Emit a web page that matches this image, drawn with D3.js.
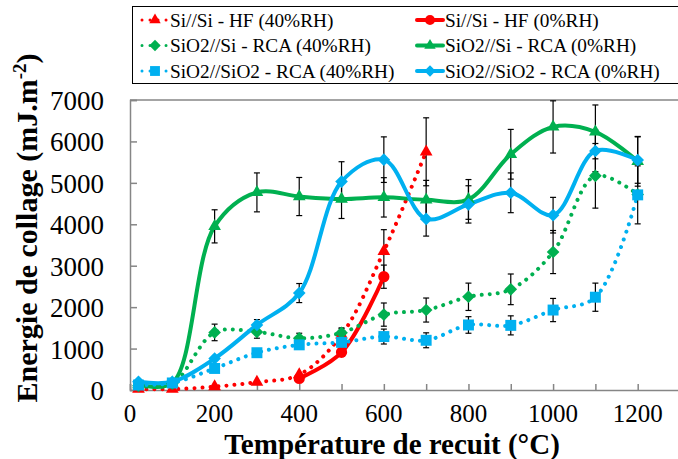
<!DOCTYPE html>
<html>
<head>
<meta charset="utf-8">
<script src="https://cdn.jsdelivr.net/npm/d3@7/dist/d3.min.js"></script>
<style>
  body { margin: 0; background: #fff; }
  svg { display: block; }
  text { font-family: 'Liberation Serif', serif; fill: #000; }
</style>
</head>
<body>
<div id="graphic"></div>
<script>

// temperatures (°C)
var temps = [20, 100, 200, 300, 400, 500, 600, 700, 800, 900, 1000, 1100, 1200]
var tempsHF40 = [20, 100, 200, 300, 400, 500, 600, 700]
var tempsHF0 = [400, 500, 600]

// bonding energy (mJ.m-2) and error bars
var hf40 = [20, 20, 80, 190, 370, 1330, 3350, 5750]
var hf40Err = [0, 0, 0, 0, 0, 150, 520, 820]

var hf0 = [280, 910, 2735]
var hf0Err = [60, 100, 280]

var rca40 = [100, 150, 1390, 1400, 1250, 1380, 1820, 1930, 2250, 2430, 3330, 5170, 4720]
var rca40Err = [0, 0, 200, 150, 120, 120, 280, 290, 330, 370, 520, 780, 0]

var rca0 = [130, 170, 3950, 4770, 4670, 4610, 4650, 4590, 4600, 5690, 6350, 6230, 5520]
var rca0Err = [0, 0, 400, 470, 460, 470, 475, 470, 480, 600, 630, 650, 600]

var oxo40 = [120, 170, 520, 900, 1090, 1150, 1290, 1200, 1570, 1560, 1930, 2240, 4710]
var oxo40Err = [0, 0, 0, 0, 100, 0, 180, 180, 200, 230, 280, 340, 700]

var oxo0 = [200, 200, 760, 1570, 2340, 5030, 5560, 4130, 4480, 4760, 4220, 5770, 5550]
var oxo0Err = [0, 0, 0, 130, 230, 480, 550, 415, 450, 480, 430, 500, 560]

var xTicks = [0, 200, 400, 600, 800, 1000, 1200]
var yTicks = [0, 1000, 2000, 3000, 4000, 5000, 6000, 7000]

var red = '#ff0000', green = '#00b050', blue = '#00b0f0'

var series = [
  {name: 'Si//Si - HF (40%RH)', x: tempsHF40, y: hf40, err: hf40Err, color: red, dotted: true, shape: 'triangle'},
  {name: 'Si//Si - HF (0%RH)', x: tempsHF0, y: hf0, err: hf0Err, color: red, dotted: false, shape: 'circle'},
  {name: 'SiO2//Si - RCA (40%RH)', x: temps, y: rca40, err: rca40Err, color: green, dotted: true, shape: 'diamond'},
  {name: 'SiO2//Si - RCA (0%RH)', x: temps, y: rca0, err: rca0Err, color: green, dotted: false, shape: 'triangle'},
  {name: 'SiO2//SiO2 - RCA (40%RH)', x: temps, y: oxo40, err: oxo40Err, color: blue, dotted: true, shape: 'square'},
  {name: 'SiO2//SiO2 - RCA (0%RH)', x: temps, y: oxo0, err: oxo0Err, color: blue, dotted: false, shape: 'diamond'}
]
series.forEach(s => {
  s.points = s.x.map((t, i) => ({t: t, v: s.y[i], e: s.err[i]}))
})

var width = 678
var height = 459

var x = d3.scaleLinear().domain([0, 1300]).range([130, 680])
var y = d3.scaleLinear().domain([0, 7000]).range([390, 100])

var svg = d3.select('#graphic').append('svg')
  .attr('width', width)
  .attr('height', height)

// symbol paths
var symbols = {
  triangle: d3.symbol().type(d3.symbolTriangle).size(70)(),
  circle: d3.symbol().type(d3.symbolCircle).size(100)(),
  square: d3.symbol().type(d3.symbolSquare).size(120)(),
  diamond: d3.symbol().type(d3.symbolSquare).size(80)()
}
function marker(sel, s, scale) {
  sel.append('path')
    .attr('d', symbols[s.shape])
    .attr('fill', s.color)
    .attr('transform', (s.shape == 'diamond' ? 'rotate(45) ' : '') + 'scale(' + (scale || 1) + ')')
}

// axes
var axisColor = '#868686'
svg.append('line')
  .attr('x1', 130).attr('x2', 678).attr('y1', 100).attr('y2', 100)
  .attr('stroke', axisColor).attr('stroke-width', 1.5)

svg.append('g')
  .attr('transform', 'translate(130,0)')
  .call(d3.axisLeft(y).tickValues(yTicks).tickSize(-7).tickPadding(26).tickFormat(d3.format('d')))
  .call(g => g.select('.domain').attr('stroke', axisColor).attr('stroke-width', 1.5))
  .call(g => g.selectAll('.tick line').attr('stroke', axisColor).attr('stroke-width', 1.5))
  .call(g => g.selectAll('.tick text').attr('font-size', 27).attr('font-family', null).attr('dy', '0.35em'))

svg.append('g')
  .attr('transform', 'translate(0,390)')
  .call(d3.axisBottom(x).tickValues(d3.range(0, 1301, 100)).tickSize(-6).tickPadding(0).tickFormat(''))
  .call(g => g.select('.domain').attr('stroke', axisColor).attr('stroke-width', 1.5))
  .call(g => g.selectAll('.tick line').attr('stroke', axisColor).attr('stroke-width', 1.5))

svg.append('g')
  .selectAll('text')
  .data(xTicks)
  .join('text')
  .attr('x', d => x(d))
  .attr('y', 422)
  .attr('text-anchor', 'middle')
  .attr('font-size', 25)
  .text(d => d)

// axis titles
svg.append('text')
  .attr('x', 392).attr('y', 454)
  .attr('text-anchor', 'middle')
  .attr('font-size', 29).attr('font-weight', 'bold')
  .text('Température de recuit (°C)')

var yTitle = svg.append('text')
  .attr('transform', 'translate(37,228) rotate(-90)')
  .attr('text-anchor', 'middle')
  .attr('font-size', 30).attr('font-weight', 'bold')
yTitle.append('tspan').text('Energie de collage (mJ.m')
yTitle.append('tspan').attr('font-size', 19).attr('dy', -11).text('-2')
yTitle.append('tspan').attr('dy', 11).text(')')

// lines
var line = d3.line()
  .x(d => x(d.t))
  .y(d => y(d.v))
  .curve(d3.curveCatmullRom.alpha(0.5))

svg.append('g').selectAll('path')
  .data(series)
  .join('path')
  .attr('d', s => line(s.points))
  .attr('fill', 'none')
  .attr('stroke', s => s.color)
  .attr('stroke-width', 4)
  .attr('stroke-linecap', 'round')
  .attr('stroke-dasharray', s => s.dotted ? '0.01 8' : null)

// error bars
var bars = svg.append('g').attr('stroke', '#000').attr('stroke-width', 1.2)
series.forEach(s => {
  s.points.filter(p => p.e > 0).forEach(p => {
    var cx = x(p.t), y0 = y(p.v - p.e), y1 = y(p.v + p.e)
    bars.append('line').attr('x1', cx).attr('x2', cx).attr('y1', y0).attr('y2', y1)
    bars.append('line').attr('x1', cx - 3).attr('x2', cx + 3).attr('y1', y0).attr('y2', y0)
    bars.append('line').attr('x1', cx - 3).attr('x2', cx + 3).attr('y1', y1).attr('y2', y1)
  })
})

// markers
series.forEach(s => {
  svg.append('g').selectAll('g')
    .data(s.points)
    .join('g')
    .attr('transform', p => 'translate(' + x(p.t) + ',' + y(p.v) + ')')
    .call(g => marker(g, s))
})

// legend
svg.append('rect')
  .attr('x', 132.5).attr('y', 6.5)
  .attr('width', 560).attr('height', 77)
  .attr('fill', '#fff').attr('stroke', '#000')

var legend = svg.append('g').selectAll('g')
  .data(series)
  .join('g')
  .attr('transform', (s, i) => 'translate(' + (i % 2 ? 417 : 142) + ',' + (20 + Math.floor(i / 2) * 25.5) + ')')

legend.append('line')
  .attr('x1', 0).attr('x2', 26)
  .attr('stroke', s => s.color)
  .attr('stroke-width', s => s.dotted ? 3 : 4)
  .attr('stroke-linecap', 'round')
  .attr('stroke-dasharray', s => s.dotted ? '0.01 8' : null)

legend.each(function(s) {
  d3.select(this).append('g').attr('transform', 'translate(13,0)').call(g => marker(g, s, 0.9))
})

legend.append('text')
  .attr('x', 28)
  .attr('dy', '0.35em')
  .attr('font-size', 19.3)
  .text(s => s.name)

</script>
</body>
</html>
